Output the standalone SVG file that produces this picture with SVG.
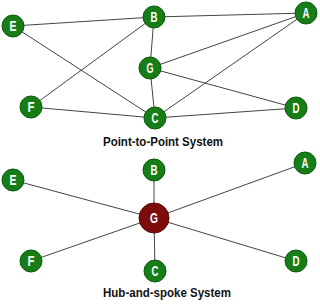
<svg xmlns="http://www.w3.org/2000/svg" width="320" height="307" viewBox="0 0 320 307">
<style>
.edge{stroke:#444;stroke-width:1;fill:none}
.n circle{fill:#177d17;stroke:#0d5a0d;stroke-width:1}
.hub circle{fill:#7d0c0c;stroke:#5a0707;stroke-width:1}
.n text,.hub text{font-family:"Liberation Sans",Arial,sans-serif;font-weight:bold;font-size:14px;fill:#fff;text-anchor:middle}
.title{font-family:"Liberation Sans",Arial,sans-serif;font-weight:bold;font-size:13px;fill:#111;text-anchor:start}
</style>
<rect width="320" height="307" fill="#fff"/>
<g id="connectors">
<line class="edge" x1="13" y1="26" x2="154" y2="17"/>
<line class="edge" x1="13" y1="26" x2="155" y2="118"/>
<line class="edge" x1="31" y1="107" x2="154" y2="17"/>
<line class="edge" x1="31" y1="107" x2="155" y2="118"/>
<line class="edge" x1="154" y1="17" x2="306" y2="13"/>
<line class="edge" x1="154" y1="17" x2="150" y2="68"/>
<line class="edge" x1="150" y1="68" x2="155" y2="118"/>
<line class="edge" x1="150" y1="68" x2="306" y2="13"/>
<line class="edge" x1="150" y1="68" x2="296" y2="108"/>
<line class="edge" x1="155" y1="118" x2="306" y2="13"/>
<line class="edge" x1="155" y1="118" x2="296" y2="108"/>
<line class="edge" x1="154" y1="218" x2="13" y2="180"/>
<line class="edge" x1="154" y1="218" x2="154" y2="170"/>
<line class="edge" x1="154" y1="218" x2="305" y2="163"/>
<line class="edge" x1="154" y1="218" x2="31" y2="261"/>
<line class="edge" x1="154" y1="218" x2="155" y2="271"/>
<line class="edge" x1="154" y1="218" x2="296" y2="261"/>
</g>
<g id="p2p-E" class="n"><circle cx="13" cy="26" r="11"/><text x="13" y="31" textLength="7" lengthAdjust="spacingAndGlyphs">E</text></g>
<g id="p2p-B" class="n"><circle cx="154" cy="17" r="11"/><text x="154" y="22" textLength="7" lengthAdjust="spacingAndGlyphs">B</text></g>
<g id="p2p-A" class="n"><circle cx="306" cy="13" r="11"/><text x="306" y="18" textLength="7" lengthAdjust="spacingAndGlyphs">A</text></g>
<g id="p2p-G" class="n"><circle cx="150" cy="68" r="11"/><text x="150" y="73" textLength="7" lengthAdjust="spacingAndGlyphs">G</text></g>
<g id="p2p-F" class="n"><circle cx="31" cy="107" r="11"/><text x="31" y="112" textLength="7" lengthAdjust="spacingAndGlyphs">F</text></g>
<g id="p2p-C" class="n"><circle cx="155" cy="118" r="11"/><text x="155" y="123" textLength="7" lengthAdjust="spacingAndGlyphs">C</text></g>
<g id="p2p-D" class="n"><circle cx="296" cy="108" r="11"/><text x="296" y="113" textLength="7" lengthAdjust="spacingAndGlyphs">D</text></g>
<text class="title" x="103" y="146" textLength="120" lengthAdjust="spacingAndGlyphs">Point-to-Point System</text>
<g id="hub-E" class="n"><circle cx="13" cy="180" r="11"/><text x="13" y="185" textLength="7" lengthAdjust="spacingAndGlyphs">E</text></g>
<g id="hub-B" class="n"><circle cx="154" cy="170" r="11"/><text x="154" y="175" textLength="7" lengthAdjust="spacingAndGlyphs">B</text></g>
<g id="hub-A" class="n"><circle cx="305" cy="163" r="11"/><text x="305" y="168" textLength="7" lengthAdjust="spacingAndGlyphs">A</text></g>
<g id="hub-G" class="hub"><circle cx="154" cy="218" r="15"/><text x="154" y="223" textLength="8" lengthAdjust="spacingAndGlyphs">G</text></g>
<g id="hub-F" class="n"><circle cx="31" cy="261" r="11"/><text x="31" y="266" textLength="7" lengthAdjust="spacingAndGlyphs">F</text></g>
<g id="hub-C" class="n"><circle cx="155" cy="271" r="11"/><text x="155" y="276" textLength="7" lengthAdjust="spacingAndGlyphs">C</text></g>
<g id="hub-D" class="n"><circle cx="296" cy="261" r="11"/><text x="296" y="266" textLength="7" lengthAdjust="spacingAndGlyphs">D</text></g>
<text class="title" x="103" y="297" textLength="128" lengthAdjust="spacingAndGlyphs">Hub-and-spoke System</text>
</svg>
